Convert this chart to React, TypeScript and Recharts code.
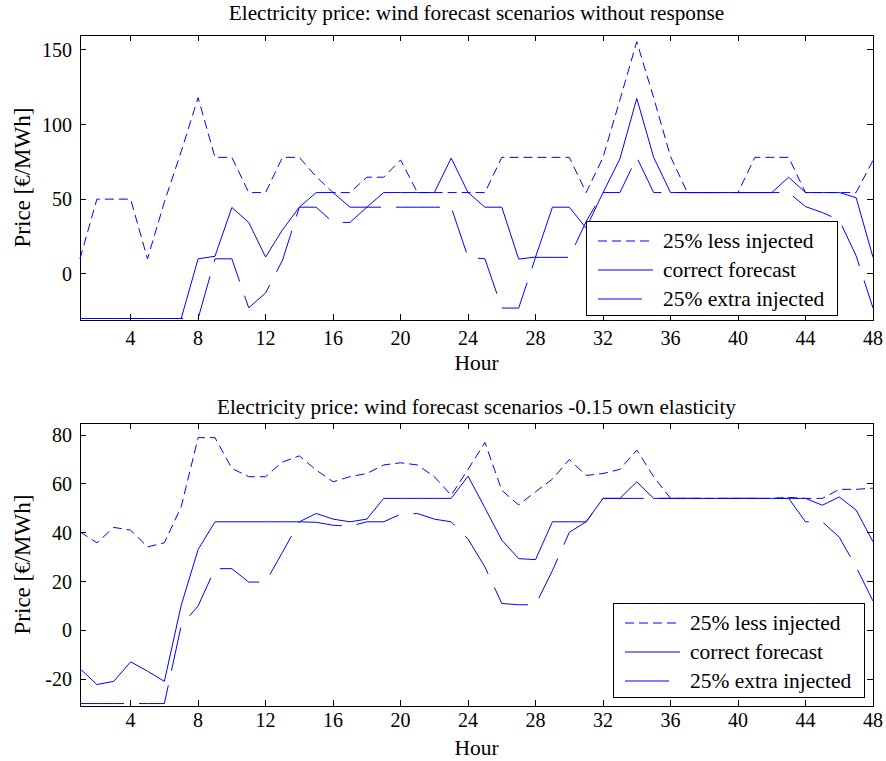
import React from "react";
import { LineChart, Line, XAxis, YAxis, ReferenceArea, Legend } from "recharts";

const FONT = '"Liberation Serif", "Times New Roman", serif';
const BLUE = "#0000ff";

const HOURS = [
  1, 2, 3, 4, 5, 6, 7, 8, 9, 10, 11, 12, 13, 14, 15, 16, 17, 18, 19, 20, 21, 22, 23, 24,
  25, 26, 27, 28, 29, 30, 31, 32, 33, 34, 35, 36, 37, 38, 39, 40, 41, 42, 43, 44, 45, 46, 47, 48,
];
const HOUR_TICKS = [4, 8, 12, 16, 20, 24, 28, 32, 36, 40, 44, 48];

// panel 1: without response
const TOP_LESS = [
  10, 50, 50, 50, 10, 48, 82, 118, 78, 78, 54.4, 54.4, 78, 78, 65, 54.4, 54.4, 64.7, 64.7, 76.3, 54.4, 54.4, 54.4, 54.4,
  54.4, 78, 78, 78, 78, 78, 54.4, 78, 116.5, 155.5, 118, 78.5, 54.4, 54.4, 54.4, 54.4, 78, 78, 78, 54.4, 54.4, 54.4, 54.4, 76,
];
const TOP_CORRECT = [
  -30, -30, -30, -30, -30, -30, -30, 10, 11.7, 44.4, 34.4, 11.2, 29.4, 44.6, 54.4, 54.4, 44.6, 44.6, 54.4, 54.4, 54.4, 54.4, 77.5, 54.4,
  44.6, 44.6, 9.8, 11.2, 44.6, 44.6, 30.6, 54.4, 77, 117.5, 78, 54.4, 54.4, 54.4, 54.4, 54.4, 54.4, 54.4, 64.7, 54.4, 54.4, 54.4, 51, 11,
];
const TOP_EXTRA = [
  -30, -30, -30, -30, -30, -30, -30, -30, 10, 10, -22.8, -12.9, 9, 44.6, 44.6, 34.4, 34.4, 44.6, 44.6, 44.6, 44.6, 44.6, 44.6, 11,
  10, -23, -23, 11, 11, 11, 35, 54.4, 54.4, 78, 54.4, 54.4, 54.4, 54.4, 54.4, 54.4, 54.4, 54.4, 54.4, 45, 41, 36, 12, -23,
];
const TOP_Y_TICKS = [0, 50, 100, 150];
const TOP_Y_DOMAIN = [-31, 160];

// panel 2: -0.15 own elasticity
const BOT_LESS = [
  40.4, 35.9, 42.2, 41.1, 34.2, 35.9, 50.7, 79, 79, 66.4, 63, 63, 69, 71.5, 65.7, 60.9, 63, 64.3, 67.8, 68.7, 67.8, 63, 55.4, 66,
  77, 57.4, 51.4, 56.8, 62, 70, 63.5, 64.3, 66, 73.9, 63, 54.1, 54.1, 54.1, 54.1, 54.1, 54.1, 54.1, 54.5, 54.1, 54.1, 57.8, 57.8, 58.3,
];
const BOT_CORRECT = [
  -15.7, -22.2, -20.9, -12.9, -16.7, -20.9, 10.3, 33.1, 44.5, 44.5, 44.5, 44.5, 44.5, 44.5, 47.9, 45.6, 44.5, 45.6, 54.1, 54.1, 54.1, 54.1, 54.1, 63.2,
  50.2, 37, 29.4, 29, 44.5, 44.5, 44.5, 54.1, 54.1, 60.9, 54.1, 54.1, 54.1, 54.1, 54.1, 54.1, 54.1, 54.1, 54.1, 54.1, 51.3, 54.7, 49.3, 36.3,
];
const BOT_EXTRA = [
  -30, -30, -30, -30, -30, -30, 2, 10, 25.3, 25.3, 19.8, 19.8, 32, 44.5, 44.3, 43.1, 42.7, 44.5, 44.5, 47.6, 47.9, 45.6, 44.5, 37.4,
  26, 11, 10.5, 10.5, 24.5, 40.2, 44.5, 54.1, 54.1, 54.1, 54.1, 54.1, 54.1, 54.1, 54.1, 54.1, 54.1, 54.1, 54.1, 44.5, 44.5, 38.2, 26, 12,
];
const BOT_Y_TICKS = [-20, 0, 20, 40, 60, 80];
const BOT_Y_DOMAIN = [-31, 85];

const SERIES = [
  { key: "less", name: "25% less injected", dash: "9 5" },
  { key: "correct", name: "correct forecast", dash: undefined },
  { key: "extra", name: "25% extra injected", dash: "44 15" },
];

const buildRows = (less: number[], correct: number[], extra: number[]) =>
  HOURS.map((hour, i) => ({ hour, less: less[i], correct: correct[i], extra: extra[i] }));

const WIDTH = 886;
const PLOT_LEFT = 80;
const PLOT_RIGHT = 873;

function LegendBox() {
  const rows = [20, 49, 78];
  return (
    <svg width={252} height={95} style={{ display: "block" }}>
      <rect x={0.5} y={0.5} width={251} height={94} fill="#fff" stroke="#000" shapeRendering="crispEdges" />
      {SERIES.map((s, i) => (
        <g key={s.key}>
          <line x1={12} x2={67} y1={rows[i]} y2={rows[i]} stroke={BLUE} strokeDasharray={s.dash} />
          <text x={77} y={rows[i]} dominantBaseline="central" fontFamily={FONT} fontSize={21.5} fill="#000">
            {s.name}
          </text>
        </g>
      ))}
    </svg>
  );
}

interface PanelProps {
  top: number;
  height: number;
  plotTop: number;
  plotBottom: number;
  title: string;
  titleY: number;
  tickLabelY: number;
  hourY: number;
  rows: { hour: number; less: number; correct: number; extra: number }[];
  yDomain: number[];
  yTicks: number[];
  legendLeft: number;
  legendTop: number;
}

function PricePanel(p: PanelProps) {
  const xTick = (props: any) => {
    const { x, payload } = props;
    return (
      <g>
        <line x1={x} x2={x} y1={p.plotBottom} y2={p.plotBottom - 6} stroke="#000" shapeRendering="crispEdges" />
        <line x1={x} x2={x} y1={p.plotTop} y2={p.plotTop + 6} stroke="#000" shapeRendering="crispEdges" />
        <text x={x} y={p.tickLabelY} textAnchor="middle" dominantBaseline="central" fontFamily={FONT} fontSize={20} fill="#000">
          {payload.value}
        </text>
      </g>
    );
  };

  const yTick = (props: any) => {
    const { y, payload } = props;
    return (
      <g>
        <line x1={PLOT_LEFT} x2={PLOT_LEFT + 6} y1={y} y2={y} stroke="#000" shapeRendering="crispEdges" />
        <line x1={PLOT_RIGHT} x2={PLOT_RIGHT - 6} y1={y} y2={y} stroke="#000" shapeRendering="crispEdges" />
        <text x={72} y={y} textAnchor="end" dominantBaseline="central" fontFamily={FONT} fontSize={20} fill="#000">
          {payload.value}
        </text>
      </g>
    );
  };

  return (
    <div style={{ position: "absolute", left: 0, top: p.top, width: WIDTH, height: p.height }}>
      <div
        style={{
          position: "absolute",
          left: PLOT_LEFT,
          width: PLOT_RIGHT - PLOT_LEFT,
          top: p.titleY - 13,
          height: 26,
          lineHeight: "26px",
          textAlign: "center",
          fontFamily: FONT,
          fontSize: 21.2,
          color: "#000",
          whiteSpace: "nowrap",
        }}
      >
        {p.title}
      </div>
      <LineChart
        width={WIDTH}
        height={p.height}
        data={p.rows}
        margin={{ top: p.plotTop, right: WIDTH - PLOT_RIGHT, bottom: 0, left: 20 }}
      >
        <XAxis
          dataKey="hour"
          type="number"
          domain={[1, 48]}
          ticks={HOUR_TICKS}
          interval={0}
          axisLine={false}
          tickLine={false}
          height={p.height - p.plotBottom}
          tick={xTick}
          label={{
            content: ({ viewBox }: any) => (
              <text
                x={viewBox.x + viewBox.width / 2}
                y={p.hourY}
                textAnchor="middle"
                dominantBaseline="central"
                fontFamily={FONT}
                fontSize={21.5}
                fill="#000"
              >
                Hour
              </text>
            ),
          }}
        />
        <YAxis
          type="number"
          domain={p.yDomain}
          ticks={p.yTicks}
          interval={0}
          allowDataOverflow
          axisLine={false}
          tickLine={false}
          width={60}
          tick={yTick}
          label={{
            content: ({ viewBox }: any) => {
              const cy = viewBox.y + viewBox.height / 2;
              return (
                <text
                  x={22}
                  y={cy}
                  transform={`rotate(-90 22 ${cy})`}
                  textAnchor="middle"
                  dominantBaseline="central"
                  fontFamily={FONT}
                  fontSize={23}
                  fill="#000"
                >
                  Price [€/MWh]
                </text>
              );
            },
          }}
        />
        {SERIES.map((s) => (
          <Line
            key={s.key}
            type="linear"
            dataKey={s.key}
            name={s.name}
            stroke={BLUE}
            strokeWidth={1}
            strokeDasharray={s.dash}
            dot={false}
            activeDot={false}
            isAnimationActive={false}
          />
        ))}
        <ReferenceArea
          x1={1}
          x2={48}
          y1={p.yDomain[0]}
          y2={p.yDomain[1]}
          fill="none"
          stroke="#000"
          strokeWidth={1}
          shapeRendering="crispEdges"
        />
        <Legend
          layout="vertical"
          align="center"
          verticalAlign="middle"
          wrapperStyle={{ left: p.legendLeft, top: p.legendTop, width: 252, height: 95 }}
          content={() => <LegendBox />}
        />
      </LineChart>
    </div>
  );
}

export default function App() {
  return (
    <div style={{ position: "absolute", left: 0, top: 0, width: WIDTH, height: 761, background: "#fff" }}>
      <PricePanel
        top={0}
        height={388}
        plotTop={35}
        plotBottom={320}
        title="Electricity price: wind forecast scenarios without response"
        titleY={13}
        tickLabelY={338}
        hourY={363}
        rows={buildRows(TOP_LESS, TOP_CORRECT, TOP_EXTRA)}
        yDomain={TOP_Y_DOMAIN}
        yTicks={TOP_Y_TICKS}
        legendLeft={586}
        legendTop={221}
      />
      <PricePanel
        top={388}
        height={373}
        plotTop={35}
        plotBottom={318}
        title="Electricity price: wind forecast scenarios -0.15 own elasticity"
        titleY={19}
        tickLabelY={332}
        hourY={360}
        rows={buildRows(BOT_LESS, BOT_CORRECT, BOT_EXTRA)}
        yDomain={BOT_Y_DOMAIN}
        yTicks={BOT_Y_TICKS}
        legendLeft={613}
        legendTop={215}
      />
    </div>
  );
}
